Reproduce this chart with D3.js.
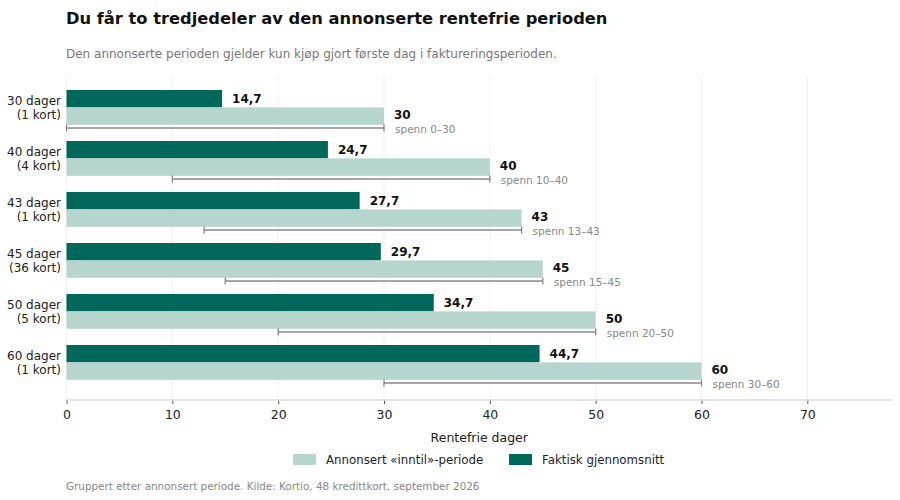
<!DOCTYPE html>
<html>
<head>
<meta charset="utf-8">
<script src="https://cdn.jsdelivr.net/npm/d3@7"></script>
<style>
  body { margin: 0; background: #fff; }
  svg { display: block; font-family: "DejaVu Sans", sans-serif; }
</style>
</head>
<body>
<div id="chart"></div>
<script>
// data
var periods = ["30 dager", "40 dager", "43 dager", "45 dager", "50 dager", "60 dager"];
var cards = ["(1 kort)", "(4 kort)", "(1 kort)", "(36 kort)", "(5 kort)", "(1 kort)"];
var advertised = [30, 40, 43, 45, 50, 60];
var actual = [14.7, 24.7, 27.7, 29.7, 34.7, 44.7];
var spanMin = [0, 10, 13, 15, 20, 30];
var spanMax = [30, 40, 43, 45, 50, 60];
var xTicks = [0, 10, 20, 30, 40, 50, 60, 70];

var colLight = "#b7d5cf";
var colDark = "#00685b";

var width = 900, height = 500;
var margin = {top: 75, right: 8, bottom: 100, left: 66.5};

var rows = periods.map(function(p, i) {
    return {period: p, cards: cards[i], adv: advertised[i], act: actual[i], lo: spanMin[i], hi: spanMax[i]};
});

var svg = d3.select("#chart").append("svg")
    .attr("width", width)
    .attr("height", height);

var x = d3.scaleLinear()
    .domain([0, 78])
    .range([margin.left, width - margin.right]);

var y = d3.scaleBand()
    .domain(periods)
    .range([margin.top, height - margin.bottom])
    .paddingInner(0.215)
    .paddingOuter(0.294);

var bw = y.bandwidth();
var sub = d3.scaleBand()
    .domain(["act", "adv"])
    .range([0, bw * 0.87]);

var fmt = function(v) { return String(v).replace(".", ","); };

// title + subtitle
svg.append("text")
    .attr("x", 66).attr("y", 24)
    .attr("font-size", 16.3).attr("font-weight", "bold").attr("fill", "#111")
    .text("Du får to tredjedeler av den annonserte rentefrie perioden");

svg.append("text")
    .attr("x", 66).attr("y", 58)
    .attr("font-size", 12).attr("fill", "#777")
    .text("Den annonserte perioden gjelder kun kjøp gjort første dag i faktureringsperioden.");

// grid
svg.append("g").selectAll("line").data(xTicks)
    .enter().append("line")
    .attr("x1", function(d) { return x(d); })
    .attr("x2", function(d) { return x(d); })
    .attr("y1", margin.top)
    .attr("y2", height - margin.bottom)
    .attr("stroke", "#efefef");

// axis
var axis = svg.append("g")
    .attr("transform", "translate(0," + (height - margin.bottom) + ")")
    .call(d3.axisBottom(x).tickValues(xTicks).tickSize(4).tickPadding(6));
axis.select(".domain").remove();
axis.append("line")
    .attr("x1", x(0)).attr("x2", x(78))
    .attr("stroke", "#ddd").attr("stroke-width", 1.5);
axis.selectAll(".tick line").attr("stroke", "#555");
axis.selectAll(".tick text")
    .attr("font-family", "DejaVu Sans, sans-serif")
    .attr("font-size", 12.5).attr("fill", "#222");

svg.append("text")
    .attr("x", (x(0) + x(78)) / 2).attr("y", 442)
    .attr("text-anchor", "middle")
    .attr("font-size", 12.5).attr("fill", "#222")
    .text("Rentefrie dager");

// groups
var g = svg.append("g").selectAll("g").data(rows)
    .enter().append("g")
    .attr("transform", function(d) { return "translate(0," + y(d.period) + ")"; });

g.append("rect")
    .attr("x", x(0))
    .attr("y", sub("act"))
    .attr("width", function(d) { return x(d.act) - x(0); })
    .attr("height", sub.bandwidth())
    .attr("fill", colDark);

g.append("rect")
    .attr("x", x(0))
    .attr("y", sub("adv"))
    .attr("width", function(d) { return x(d.adv) - x(0); })
    .attr("height", sub.bandwidth())
    .attr("fill", colLight);

// span whisker
var wy = bw * 0.95;
g.append("line")
    .attr("x1", function(d) { return x(d.lo); })
    .attr("x2", function(d) { return x(d.hi); })
    .attr("y1", wy).attr("y2", wy)
    .attr("stroke", "#888").attr("stroke-width", 1.3);
g.append("line")
    .attr("x1", function(d) { return x(d.lo); })
    .attr("x2", function(d) { return x(d.lo); })
    .attr("y1", wy - 3.5).attr("y2", wy + 3.5)
    .attr("stroke", "#888").attr("stroke-width", 1.3);
g.append("line")
    .attr("x1", function(d) { return x(d.hi); })
    .attr("x2", function(d) { return x(d.hi); })
    .attr("y1", wy - 3.5).attr("y2", wy + 3.5)
    .attr("stroke", "#888").attr("stroke-width", 1.3);

// value labels
g.append("text")
    .attr("x", function(d) { return x(d.act) + 10; })
    .attr("y", sub("act") + sub.bandwidth() / 2)
    .attr("dy", "0.35em")
    .attr("font-size", 12).attr("font-weight", "bold").attr("fill", "#111")
    .text(function(d) { return fmt(d.act); });

g.append("text")
    .attr("x", function(d) { return x(d.adv) + 10; })
    .attr("y", sub("adv") + sub.bandwidth() / 2 - 1)
    .attr("dy", "0.35em")
    .attr("font-size", 12).attr("font-weight", "bold").attr("fill", "#111")
    .text(function(d) { return fmt(d.adv); });

g.append("text")
    .attr("x", function(d) { return x(d.hi) + 11; })
    .attr("y", wy + 1)
    .attr("dy", "0.35em")
    .attr("font-size", 10.5).attr("fill", "#888")
    .text(function(d) { return "spenn " + d.lo + "–" + d.hi; });

// y labels
var yl = g.append("text")
    .attr("text-anchor", "end")
    .attr("font-size", 12).attr("fill", "#222");
yl.append("tspan")
    .attr("x", 61).attr("y", sub.bandwidth() * 0.7 + 3)
    .text(function(d) { return d.period; });
yl.append("tspan")
    .attr("x", 61).attr("y", sub.bandwidth() * 0.7 + 17)
    .text(function(d) { return d.cards; });

// legend
var legendItems = [
    {label: "Annonsert «inntil»-periode", color: colLight, x: 293},
    {label: "Faktisk gjennomsnitt", color: colDark, x: 509}
];
var lg = svg.append("g").selectAll("g").data(legendItems)
    .enter().append("g")
    .attr("transform", function(d) { return "translate(" + d.x + ",454)"; });
lg.append("rect")
    .attr("width", 23).attr("height", 11)
    .attr("fill", function(d) { return d.color; });
lg.append("text")
    .attr("x", 33).attr("y", 5.5).attr("dy", "0.35em")
    .attr("font-size", 11.8).attr("fill", "#222")
    .text(function(d) { return d.label; });

// footer
svg.append("text")
    .attr("x", 66).attr("y", 490)
    .attr("font-size", 10.4).attr("fill", "#888")
    .text("Gruppert etter annonsert periode. Kilde: Kortio, 48 kredittkort, september 2026");
</script>
</body>
</html>
